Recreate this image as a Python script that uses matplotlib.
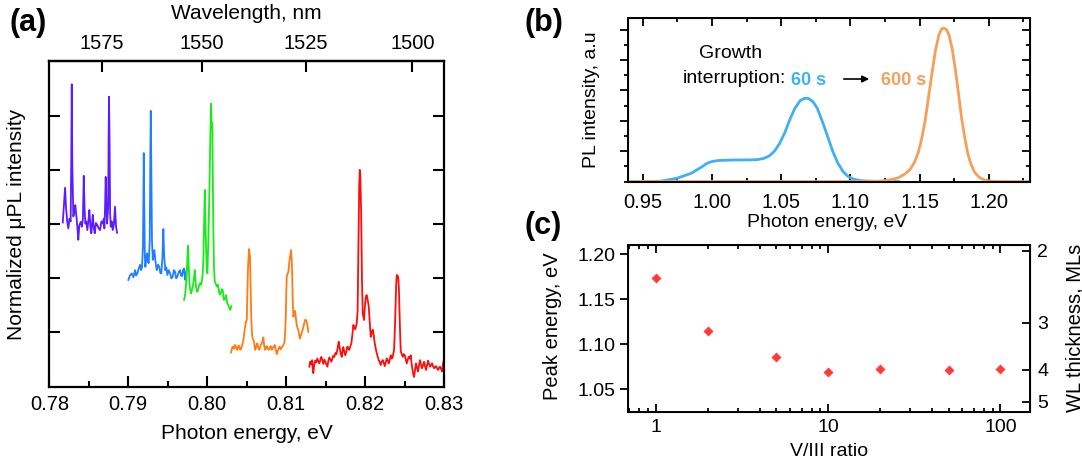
import matplotlib
matplotlib.use('Agg')
import matplotlib.pyplot as plt
import numpy as np
from matplotlib.ticker import MultipleLocator, NullFormatter

plt.rcParams['font.family'] = ['Liberation Sans', 'DejaVu Sans']

# ---- (a) micro-PL spectra, photon energy (eV) vs normalized intensity (offset)
purple_x = [.78170, .78185, .78199, .78212, .78226, .78241, .78255, .78270, .78278, .78284,
            .78291, .78304, .78316, .78329, .78347, .78357, .78367, .78380, .78398, .78412,
            .78425, .78436, .78446, .78456, .78468, .78481, .78494, .78507, .78520, .78532,
            .78541, .78550, .78562, .78575, .78590, .78608, .78625, .78642, .78660, .78676,
            .78690, .78697, .78706, .78714, .78722, .78731, .78745, .78751, .78756, .78763,
            .78770, .78778, .78790, .78803, .78818, .78832, .78845, .78858]
purple_y = [3.03, 3.35, 3.67, 3.30, 3.05, 2.92, 3.10, 3.05, 4.20, 5.58,
            4.10, 3.14, 3.22, 3.35, 3.08, 2.90, 2.71, 2.98, 3.04, 2.95,
            3.10, 3.89, 3.30, 3.01, 3.05, 2.89, 3.05, 3.26, 2.95, 2.83,
            3.00, 3.17, 2.95, 2.83, 3.02, 2.98, 2.92, 2.89, 3.05, 3.01,
            3.10, 2.92, 3.30, 3.87, 3.40, 3.01, 3.30, 4.60, 5.35, 4.50,
            3.20, 2.95, 3.05, 2.89, 3.00, 3.32, 2.95, 2.84]

blue_x = [.79001, .79020, .79044, .79065, .79086, .79100, .79115, .79132, .79149, .79162,
          .79174, .79186, .79192, .79196, .79202, .79210, .79216, .79227, .79238, .79249,
          .79259, .79272, .79280, .79285, .79291, .79300, .79310, .79320, .79330, .79345,
          .79361, .79377, .79393, .79405, .79419, .79433, .79444, .79455, .79469, .79482,
          .79495, .79512, .79529, .79546, .79563, .79577, .79592, .79607, .79622, .79640,
          .79656, .79668, .79681, .79694, .79706, .79715, .79723, .79741]
blue_y = [1.97, 2.05, 2.09, 2.02, 2.15, 2.05, 2.09, 2.18, 2.25, 2.15,
          2.21, 2.60, 3.60, 4.31, 3.40, 2.40, 2.21, 2.35, 2.46, 2.30,
          2.28, 2.70, 4.40, 5.09, 4.20, 2.70, 2.34, 2.40, 2.52, 2.30,
          2.15, 2.25, 2.21, 2.10, 2.09, 2.40, 2.91, 2.40, 2.15, 2.20,
          2.06, 2.15, 2.09, 2.00, 2.03, 2.15, 2.12, 2.00, 2.03, 2.12,
          2.15, 2.05, 2.04, 2.15, 2.18, 2.05, 1.97, 2.18]

green_x = [.79706, .79719, .79730, .79741, .79749, .79757, .79765, .79774, .79785, .79795,
           .79806, .79817, .79830, .79842, .79850, .79858, .79871, .79884, .79896, .79909,
           .79922, .79934, .79943, .79951, .79960, .79969, .79977, .79985, .79993, .80002,
           .80014, .80027, .80038, .80048, .80056, .80065, .80071, .80078, .80086, .80095,
           .80108, .80121, .80134, .80146, .80158, .80171, .80184, .80197, .80205, .80213,
           .80226, .80239, .80247, .80255, .80268, .80280, .80293, .80306]
green_y = [1.60, 1.69, 1.85, 2.09, 2.40, 2.60, 2.25, 1.91, 1.80, 1.72,
           1.78, 1.85, 1.98, 2.15, 2.00, 1.85, 1.75, 1.78, 1.86, 1.91,
           1.88, 1.97, 2.10, 2.34, 3.00, 3.63, 3.10, 2.58, 2.20, 2.09,
           2.70, 3.57, 4.50, 5.22, 4.80, 4.86, 3.80, 2.83, 2.20, 1.94,
           1.90, 1.85, 1.88, 1.78, 1.70, 1.72, 1.80, 1.78, 1.65, 1.60,
           1.62, 1.69, 1.60, 1.54, 1.50, 1.45, 1.42, 1.49]

orange_x = [.80302, .80312, .80323, .80338, .80352, .80367, .80382, .80395, .80407, .80420,
            .80432, .80445, .80458, .80470, .80483, .80492, .80501, .80510, .80517, .80530,
            .80542, .80550, .80559, .80568, .80577, .80593, .80602, .80610, .80622, .80635,
            .80648, .80660, .80676, .80691, .80701, .80711, .80722, .80733, .80744, .80754,
            .80766, .80779, .80792, .80805, .80818, .80830, .80843, .80855, .80868, .80881,
            .80893, .80906, .80918, .80931, .80944, .80957, .80967, .80977, .80987, .80995,
            .81001, .81007, .81018, .81028, .81040, .81049, .81062, .81070, .81075, .81083,
            .81091, .81102, .81113, .81124, .81134, .81145, .81154, .81165, .81176, .81187,
            .81197, .81208, .81218, .81230, .81243, .81261, .81272, .81281]
orange_y = [0.63, 0.70, 0.74, 0.70, 0.77, 0.72, 0.68, 0.76, 0.73, 0.68,
            0.71, 0.78, 0.86, 1.00, 1.14, 1.20, 1.23, 1.80, 2.21, 2.54,
            2.40, 1.80, 1.23, 0.95, 0.89, 0.83, 0.72, 0.68, 0.75, 0.80,
            0.72, 0.68, 0.76, 0.80, 0.85, 0.91, 0.75, 0.68, 0.72, 0.75,
            0.70, 0.68, 0.72, 0.75, 0.68, 0.71, 0.74, 0.77, 0.68, 0.60,
            0.66, 0.71, 0.74, 0.69, 0.72, 0.75, 0.78, 0.80, 1.00, 1.29,
            1.70, 2.03, 2.08, 2.12, 2.30, 2.40, 2.52, 2.35, 2.12, 1.60,
            1.29, 1.35, 1.40, 1.25, 1.14, 1.08, 1.05, 0.95, 0.89, 0.95,
            0.99, 1.05, 1.10, 1.18, 1.24, 1.20, 1.10, 1.01]

red_x = [.81294, .81303, .81315, .81328, .81336, .81344, .81355, .81366, .81380, .81395,
         .81408, .81420, .81433, .81446, .81458, .81471, .81484, .81496, .81509, .81522,
         .81535, .81547, .81560, .81572, .81585, .81598, .81610, .81623, .81636, .81648,
         .81657, .81666, .81675, .81683, .81694, .81704, .81714, .81724, .81737, .81750,
         .81762, .81775, .81788, .81800, .81813, .81826, .81838, .81851, .81864, .81876,
         .81885, .81894, .81905, .81915, .81925, .81932, .81940, .81950, .81960, .81970,
         .81987, .81996, .82005, .82013, .82021, .82033, .82046, .82058, .82071, .82084,
         .82097, .82109, .82122, .82135, .82147, .82160, .82173, .82185, .82198, .82210,
         .82223, .82236, .82249, .82261, .82274, .82287, .82299, .82312, .82325, .82337,
         .82350, .82358, .82367, .82378, .82388, .82394, .82401, .82412, .82421, .82428,
         .82434, .82443, .82452, .82465, .82477, .82490, .82502, .82515, .82528, .82540,
         .82553, .82566, .82578, .82591, .82604, .82612, .82620, .82632, .82645, .82658,
         .82671, .82683, .82696, .82709, .82721, .82734, .82747, .82759, .82772, .82785,
         .82797, .82810, .82823, .82835, .82848, .82860, .82873, .82886, .82898, .82911,
         .82924, .82937, .82949, .82962, .82975, .82991]
red_y = [0.37, 0.46, 0.42, 0.49, 0.35, 0.25, 0.40, 0.48, 0.45, 0.52,
         0.46, 0.43, 0.50, 0.55, 0.48, 0.42, 0.50, 0.46, 0.42, 0.37,
         0.48, 0.54, 0.50, 0.46, 0.52, 0.57, 0.55, 0.62, 0.60, 0.68,
         0.75, 0.83, 0.74, 0.68, 0.60, 0.55, 0.65, 0.73, 0.64, 0.58,
         0.66, 0.74, 0.70, 0.68, 0.75, 0.80, 0.95, 1.14, 1.08, 1.06,
         1.12, 1.17, 1.40, 2.50, 3.70, 4.00, 3.85, 3.20, 2.00, 1.35,
         1.23, 1.45, 1.60, 1.68, 1.69, 1.60, 1.48, 1.20, 0.92, 1.00,
         1.05, 0.95, 0.80, 0.70, 0.62, 0.55, 0.49, 0.45, 0.40, 0.46,
         0.49, 0.44, 0.38, 0.45, 0.52, 0.48, 0.43, 0.50, 0.58, 0.52,
         0.55, 0.62, 0.68, 1.10, 1.60, 1.90, 2.06, 2.05, 2.00, 1.80,
         1.48, 1.00, 0.65, 0.60, 0.55, 0.60, 0.58, 0.50, 0.43, 0.50,
         0.55, 0.52, 0.58, 0.40, 0.28, 0.22, 0.18, 0.30, 0.43, 0.35,
         0.28, 0.40, 0.49, 0.40, 0.34, 0.40, 0.46, 0.38, 0.31, 0.40,
         0.48, 0.42, 0.37, 0.40, 0.43, 0.38, 0.34, 0.36, 0.38, 0.34,
         0.31, 0.35, 0.37, 0.33, 0.28, 0.46]

a_traces = [(purple_x, purple_y, '#5b1cff'), (blue_x, blue_y, '#1f7fff'),
            (green_x, green_y, '#1aea1a'), (orange_x, orange_y, '#ff7b14'),
            (red_x, red_y, '#ff0d0d')]
a_xticks = [0.78, 0.79, 0.80, 0.81, 0.82, 0.83]
a_xlabels = ['0.78', '0.79', '0.80', '0.81', '0.82', '0.83']
wl_ticks = [1575, 1550, 1525, 1500]
HC = 1239.0  # eV*nm

# ---- (b) PL spectra for two growth interruptions
b60_x = [0.940, 0.950, 0.963, 0.975, 0.980, 0.985, 0.989, 0.993, 0.9965, 1.0002,
         1.004, 1.010, 1.0177, 1.0251, 1.0326, 1.0375, 1.0413, 1.045, 1.0487, 1.0525,
         1.0562, 1.0599, 1.0637, 1.0669, 1.0699, 1.0729, 1.0761, 1.0798, 1.0836, 1.0873,
         1.091, 1.0947, 1.0985, 1.1022, 1.1072, 1.1146, 1.1246, 1.135]
b60_y = [0.0, 0.0, 0.01, 0.11, 0.19, 0.27, 0.38, 0.49, 0.60, 0.66,
         0.69, 0.70, 0.71, 0.71, 0.72, 0.76, 0.84, 0.99, 1.24, 1.59,
         2.03, 2.41, 2.66, 2.74, 2.73, 2.63, 2.41, 1.97, 1.48, 0.99,
         0.60, 0.33, 0.16, 0.08, 0.03, 0.01, 0.0, 0.0]
b600_x = [0.940, 1.000, 1.100, 1.1196, 1.1271, 1.1345, 1.1395, 1.1432, 1.1465, 1.149,
          1.1515, 1.154, 1.1564, 1.1589, 1.1614, 1.1639, 1.1659, 1.1676, 1.1694, 1.1714,
          1.1736, 1.1758, 1.1781, 1.1803, 1.1826, 1.1848, 1.1873, 1.1898, 1.193, 1.1967,
          1.2017, 1.2100, 1.2300]
b600_y = [0.0, 0.0, 0.0, 0.01, 0.04, 0.12, 0.25, 0.40, 0.65, 0.95,
          1.40, 2.00, 2.75, 3.55, 4.30, 4.82, 5.02, 5.05, 5.00, 4.80,
          4.35, 3.70, 2.90, 2.10, 1.45, 0.92, 0.55, 0.30, 0.14, 0.05,
          0.01, 0.0, 0.0]
b_xticks = [0.95, 1.00, 1.05, 1.10, 1.15, 1.20]
b_xlabels = ['0.95', '1.00', '1.05', '1.10', '1.15', '1.20']
c60 = '#3fb0f2'
c600 = '#f5a05a'

# ---- (c) peak energy vs V/III ratio
ratio = [1, 2, 5, 10, 20, 50, 100]
peak_e = [1.174, 1.1148, 1.0856, 1.0689, 1.0722, 1.0714, 1.0726]
c_yticks = [1.05, 1.10, 1.15, 1.20]
c_ylabels = ['1.05', '1.10', '1.15', '1.20']
ml_labels = ['2', '3', '4', '5']
ml_energy = [1.2040, 1.1240, 1.0715, 1.0363]

fig = plt.figure(figsize=(10.82, 4.62), dpi=100)

# ---------------- panel (a)
axa = fig.add_axes([0.0456, 0.1630, 0.3648, 0.7039])
for x, y, c in a_traces:
    axa.plot(x, y, color=c, lw=1.3)
axa.set_xlim(0.78, 0.83)
axa.set_ylim(0, 6)
axa.set_xticks(a_xticks)
axa.set_xticklabels(a_xlabels)
axa.xaxis.set_minor_locator(MultipleLocator(0.005))
axa.set_yticks([1, 2, 3, 4, 5])
axa.yaxis.set_major_formatter(NullFormatter())
axa.tick_params(which='both', direction='in', width=1.5, labelsize=14.5, pad=6,
                left=True, right=True)
axa.tick_params(which='major', length=8)
axa.tick_params(which='minor', length=4)
axa.set_xlabel('Photon energy, eV', fontsize=15)
axa.xaxis.set_label_coords(0.5, -0.115)
axa.set_ylabel('Normalized \u03bcPL intensity', fontsize=15)
axa.yaxis.set_label_coords(-0.059, 0.5)
for s in axa.spines.values():
    s.set_linewidth(1.6)


def ev2nm(e):
    e = np.asarray(e, dtype=float)
    return HC / np.where(e == 0, 1e-9, e)


top = axa.secondary_xaxis('top', functions=(ev2nm, ev2nm))
top.set_xticks(wl_ticks)
top.set_xticklabels([str(w) for w in wl_ticks])
top.tick_params(direction='in', length=8, width=1.5, labelsize=14.5, pad=6)
top.minorticks_off()
top.spines['top'].set_linewidth(1.6)
top.set_xlabel('Wavelength, nm', fontsize=15, labelpad=11)

# ---------------- panel (b)
axb = fig.add_axes([0.5807, 0.6071, 0.3713, 0.3539])
axb.plot(b60_x, b60_y, color=c60, lw=2)
axb.plot(b600_x, b600_y, color=c600, lw=2)
axb.set_xlim(0.9396, 1.2298)
axb.set_ylim(0, 5.38)
axb.set_xticks(b_xticks)
axb.set_xticklabels(b_xlabels)
axb.xaxis.set_minor_locator(MultipleLocator(0.025))
axb.set_yticks([1, 2, 3, 4, 5])
axb.yaxis.set_minor_locator(MultipleLocator(0.5))
axb.yaxis.set_major_formatter(NullFormatter())
axb.tick_params(which='both', direction='in', width=1.3, labelsize=14.5, pad=8,
                top=True, right=True)
axb.tick_params(which='major', length=6)
axb.tick_params(which='minor', length=3)
axb.tick_params(axis='y', which='both', direction='out', left=True, right=False)
axb.set_xlabel('Photon energy, eV', fontsize=14)
axb.xaxis.set_label_coords(0.494, -0.199)
axb.set_ylabel('PL intensity, a.u', fontsize=14)
axb.yaxis.set_label_coords(-0.0705, 0.503)
for s in axb.spines.values():
    s.set_linewidth(1.4)
# right side ticks pointing in
axb_r = axb.twinx()
axb_r.set_ylim(axb.get_ylim())
axb_r.set_yticks([1, 2, 3, 4, 5])
axb_r.yaxis.set_minor_locator(MultipleLocator(0.5))
axb_r.yaxis.set_major_formatter(NullFormatter())
axb_r.tick_params(which='both', direction='in', width=1.3)
axb_r.tick_params(which='major', length=6)
axb_r.tick_params(which='minor', length=3)

fig.text(0.6756, 0.8846, 'Growth', fontsize=14, ha='center', va='center')
fig.text(0.6312, 0.8305, 'interruption:', fontsize=14, ha='left', va='center')
fig.text(0.7311, 0.8268, '60 s', fontsize=13, fontweight='bold', color=c60,
         ha='left', va='center')
fig.text(0.8142, 0.8268, '600 s', fontsize=13, fontweight='bold', color=c600,
         ha='left', va='center')
axb.annotate('', xy=(0.8059, 0.829), xytext=(0.7773, 0.829),
             xycoords='figure fraction', textcoords='figure fraction',
             arrowprops=dict(arrowstyle='-|>', color='k', lw=1.2, mutation_scale=10))

# ---------------- panel (c)
axc = fig.add_axes([0.5807, 0.1089, 0.3713, 0.3608])
axc.plot(ratio, peak_e, 'D', color='#ff3b3b', ms=5.5, mec='none')
axc.set_xscale('log')
axc.set_xlim(0.69, 148.6)
axc.set_ylim(1.0251, 1.2103)
axc.set_xticks([1, 10, 100])
axc.set_xticklabels(['1', '10', '100'])
axc.set_yticks(c_yticks)
axc.set_yticklabels(c_ylabels)
axc.tick_params(axis='x', which='both', direction='in', top=True, width=1.3,
                labelsize=14, pad=5)
axc.tick_params(axis='x', which='major', length=6)
axc.tick_params(axis='x', which='minor', length=3)
axc.tick_params(axis='y', direction='out', length=6, width=1.3, labelsize=14, pad=3,
                right=False)
axc.set_xlabel('V/III ratio', fontsize=14)
axc.xaxis.set_label_coords(0.5, -0.19)
axc.set_ylabel('Peak energy, eV', fontsize=14.5)
axc.yaxis.set_label_coords(-0.165, 0.515)
for s in axc.spines.values():
    s.set_linewidth(1.4)

axr = axc.twinx()
axr.set_ylim(axc.get_ylim())
axr.set_yticks(ml_energy)
axr.set_yticklabels(ml_labels)
axr.tick_params(direction='in', length=6, width=1.3, labelsize=14, pad=5)
axr.set_ylabel('WL thickness, MLs', fontsize=14.5)
axr.yaxis.set_label_coords(1.087, 0.5)

# panel letters
fig.text(0.0092, 0.950, '(a)', fontsize=22, fontweight='bold', va='center')
fig.text(0.4852, 0.950, '(b)', fontsize=22, fontweight='bold', va='center')
fig.text(0.4852, 0.5108, '(c)', fontsize=22, fontweight='bold', va='center')

fig.savefig('out.png', dpi=100)
